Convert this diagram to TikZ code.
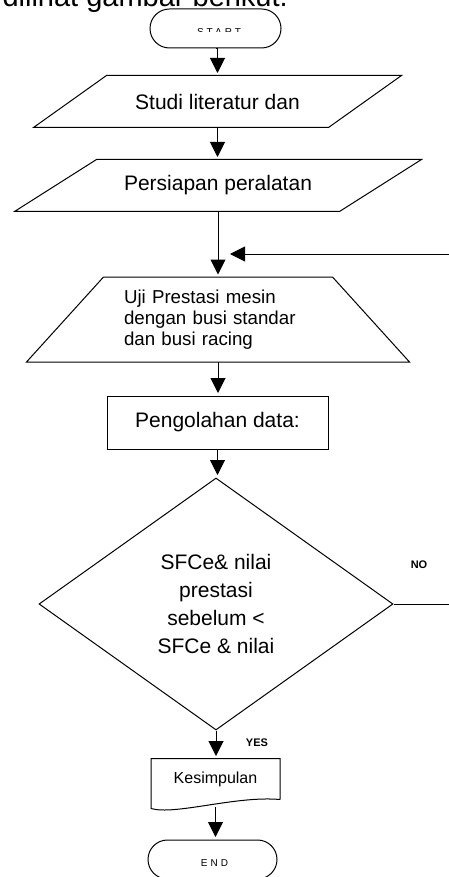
\documentclass[tikz,border=0pt]{standalone}
\usepackage{fontspec}
\setmainfont{Liberation Sans}
\usetikzlibrary{shapes.geometric,shapes.misc,arrows.meta}

\begin{document}
\begin{tikzpicture}
        [x=1pt, y=-1pt, line width=1pt, inner sep=1pt,
         font=\fontsize{21}{28}\selectfont,
         term/.style={rounded rectangle, draw, minimum width=133pt, minimum height=39pt},
         io/.style={rectangle, minimum height=51pt},
         proc/.style={rectangle, draw, minimum width=221pt, minimum height=53pt},
         dec/.style={diamond, draw, minimum width=354pt, minimum height=252pt, align=center},
         cut/.style={font=\fontsize{10}{12}\selectfont\addfontfeature{LetterSpace=30}, anchor=base},
         lbl/.style={font=\bfseries\fontsize{11}{13}\selectfont},
         flow/.style={-{Triangle[length=15pt,width=15pt]}, shorten >=2.5pt}]
        \useasboundingbox (0,0) rectangle (448,877);
        \node (intro) at (1,7)[anchor=base west, font=\fontsize{29}{34}\selectfont] {dilihat gambar berikut.};
        % flow nodes
        \node (start) at (215.5,28.5)[term] {};
        \node (studi) at (217.5,101.5)[io, minimum width=294pt] {Studi literatur dan};
        \draw ([xshift=36.5pt]studi.north west) -- ([xshift=36.5pt]studi.north east)
            -- ([xshift=-36.5pt]studi.south east) -- ([xshift=-36.5pt]studi.south west) -- cycle;
        \node (pers)  at (218,185.5)[io, minimum width=324pt] {Persiapan peralatan};
        \draw ([xshift=41pt]pers.north west) -- ([xshift=41pt]pers.north east)
            -- ([xshift=-41pt]pers.south east) -- ([xshift=-41pt]pers.south west) -- cycle;
        \node (uji)   at (218,319.5)[minimum width=228pt, minimum height=84pt,
            text width=188pt, align=left, font=\fontsize{18.7}{21}\selectfont]
            {Uji Prestasi mesin\\dengan busi standar\\dan busi racing};
        \draw (uji.north west) -- (uji.north east)
            -- ([xshift=77pt]uji.south east) -- ([xshift=-77pt]uji.south west) -- cycle;
        \node (olah)  at (217.5,422.5)[proc] {Pengolahan data:};
        \node (cek)   at (216,604)[dec] {SFCe\& nilai\\prestasi\\sebelum <\\SFCe \& nilai};
        \node (kes)   at (215.5,779)[minimum width=128pt, minimum height=40pt,
            font=\fontsize{16}{19}\selectfont] {Kesimpulan};
        \draw (kes.south east) -- (kes.north east) -- (kes.north west)
            -- ([yshift=-9pt]kes.south west) .. controls +(24,7) and +(-44,-4) .. (kes.south east);
        \node (end)   at (212.5,859.5)[term, minimum width=131pt] {};
        % terminal texts, cut off by their boxes
        \begin{scope}
            \clip (150,10) rectangle (280,32);
            \node (starttxt) at (219,35.5)[cut] {START};
        \end{scope}
        \begin{scope}
            \clip (150,850) rectangle (280,865);
            \node (endtxt) at (214.5,866.5)[cut] {END};
        \end{scope}
        % connectors
        \coordinate (loopin) at (227.5,254);
        \coordinate (loopx)  at (470,604);
        \draw [flow] (start.south) -- (start.south -| studi.north) -- (studi.north);
        \draw [flow] (studi.south) -- (studi.south |- pers.north);
        \draw [flow] (pers.south) -- (pers.south |- uji.north);
        \draw [flow] (uji.south) -- (uji.south |- olah.north);
        \draw [flow] (olah.south) -- (olah.south |- cek.north);
        \draw [flow] (cek.south) -- (cek.south |- kes.north);
        \draw [flow] ([yshift=-7pt]kes.south) -- (kes.south |- end.north);
        \draw [flow] (cek.east) -- (loopx) |- (loopin);
        \node (no)  at (419,565)[lbl] {NO};
        \node (yes) at (257,743)[lbl] {YES};
    \end{tikzpicture}
\end{document}
